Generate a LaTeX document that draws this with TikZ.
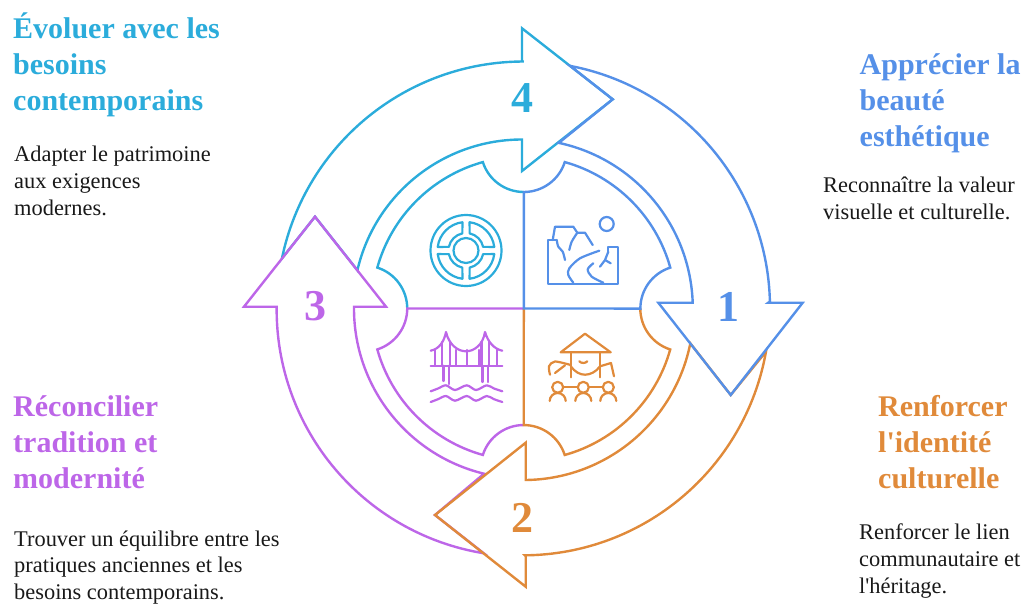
\documentclass[tikz,border=0pt]{standalone}
\usepackage{fontspec}
\setmainfont{Liberation Serif}
\usepackage{tikz}
\usetikzlibrary{arrows,shapes}

\definecolor{cyanpart}{HTML}{2BACDB}
\definecolor{bluepart}{HTML}{5590E8}
\definecolor{orangepart}{HTML}{E08A3A}
\definecolor{purplepart}{HTML}{BD66E8}

\tikzset{
    shapeline/.style={line width=2.4pt, line join=miter},
    iconline/.style={line width=2.2pt, line cap=round, line join=round},
    title/.style={anchor=north west, inner sep=0pt, align=left, font=\fontsize{30}{36}\selectfont\bfseries},
    body/.style={anchor=north west, inner sep=0pt, align=left, text=black!90, font=\fontsize{22.4}{27.2}\selectfont},
    number/.style={inner sep=0pt, font=\fontsize{44}{44}\selectfont\bfseries}
}

\begin{document}
\begin{tikzpicture}[x=1pt, y=-1pt]
    \useasboundingbox (0, 0) rectangle (1028, 603);
    \coordinate (center) at (523.8, 308.5);

    % Draw sectors
    \draw[shapeline, cyanpart] (center) ++(270:116.5)
        arc[start angle=90, end angle=162.3, radius=43]
        arc[start angle=254.4, end angle=195.6, radius=152]
        arc[start angle=287.7, end angle=360, radius=43];
    \draw[shapeline, purplepart] (center) ++(90:116.5)
        arc[start angle=270, end angle=197.7, radius=43]
        arc[start angle=105.6, end angle=164.4, radius=152]
        arc[start angle=72.3, end angle=0, radius=43] -- (center);
    \draw[shapeline, orangepart] (center) ++(0:116.5)
        arc[start angle=180, end angle=107.7, radius=43]
        arc[start angle=15.6, end angle=74.4, radius=152]
        arc[start angle=342.3, end angle=270, radius=43] -- (center);
    \draw[shapeline, bluepart] (center) -- ++(270:116.5)
        arc[start angle=90, end angle=17.7, radius=43]
        arc[start angle=285.6, end angle=344.4, radius=152]
        arc[start angle=252.3, end angle=180, radius=43] -- cycle;

    % Draw arrows
    \draw[shapeline, cyanpart] (center) ++(191.7:247)
        arc[start angle=191.7, end angle=270, radius=247]
        -- (522, 61.5) -- (522, 28.3) -- (612.7, 99.3) -- (522, 171) -- (522, 139.5)
        arc[start angle=270, end angle=193.1, radius=169]
        -- (315, 216.7) -- cycle;
    \draw[shapeline, purplepart] (center) ++(99.3:248)
        arc[start angle=99.3, end angle=180.4, radius=247]
        -- (276.7, 306.7) -- (244, 306.7) -- (315, 216.7) -- (386, 306.7) -- (354, 306.7)
        arc[start angle=180.6, end angle=103.6, radius=170]
        -- (435, 515) -- cycle;
    \draw[shapeline, orangepart] (center) ++(10.1:246)
        arc[start angle=10.1, end angle=89.5, radius=247]
        -- (525.7, 556) -- (525.7, 586.7) -- (435, 515) -- (525.7, 442.7) -- (525.7, 480)
        arc[start angle=89.3, end angle=11.3, radius=170]
        -- (730.7, 395) -- cycle;
    \draw[shapeline, bluepart] (center) ++(280.8:247)
        arc[start angle=280.8, end angle=358.6, radius=246]
        -- (768.3, 302.7) -- (802.7, 302.7) -- (730.7, 395) -- (658.3, 302.7) -- (692.7, 302.7)
        arc[start angle=358, end angle=282.1, radius=169.5]
        -- (612.7, 99.3) -- cycle;

    % Define numbers
    \node[number, text=cyanpart] at (522, 98) (number four) {4};
    \node[number, text=purplepart] at (315, 306) (number three) {3};
    \node[number, text=orangepart] at (522, 518) (number two) {2};
    \node[number, text=bluepart] at (728, 307) (number one) {1};

    % Wheel icon
    \begin{scope}[shift={(466, 250.5)}, iconline, cyanpart]
        \draw (0, 0) circle[radius=35.5];
        \draw (0, 0) circle[radius=12.5];
        \foreach \a in {0, 90, 180, 270} {
            \draw (\a+7.2:28.5) arc[start angle=\a+7.2, end angle=\a+82.8, radius=28.5]
                -- (\a+78:17.5) arc[start angle=\a+78, end angle=\a+12, radius=17.5] -- cycle;
        }
    \end{scope}

    % Landscape icon
    \begin{scope}[iconline, bluepart]
        \draw (556.7, 240) -- (548.3, 240) -- (548.3, 284) -- (617.8, 284) -- (617.8, 246.7) -- (608.3, 246.7) -- (608.3, 251.7);
        \draw (552.7, 240) -- (555, 226.7) -- (573.3, 226.7) -- (577.3, 232.7) -- (585, 232.7) -- (592.7, 245);
        \draw plot[smooth] coordinates {(556.7, 240) (558.3, 246.7) (562.7, 251.7) (565, 260)};
        \draw plot[smooth] coordinates {(577.3, 232.7) (571.7, 241.7) (569.3, 250)};
        \draw plot[smooth] coordinates {(599.3, 250.7) (580, 258.3) (569.3, 268.3) (568.3, 275) (573.3, 282.7)};
        \draw plot[smooth] coordinates {(593.3, 263.3) (587.7, 269.3) (591.7, 276.7) (603.3, 282.7)};
        \draw (608.3, 251.7) -- (605, 260) -- (600, 266.7);
        \draw (605, 260) -- (610.7, 263.3);
        \draw (606.7, 224) circle[radius=7];
    \end{scope}

    % Bridge icon
    \begin{scope}[iconline, purplepart]
        \draw (430.7, 365.7) -- (502.3, 365.7);
        \draw (430.7, 350.7) .. controls (439, 349) and (444, 342) .. (446, 332)
            .. controls (449, 345) and (458, 351.3) .. (466, 351.3)
            .. controls (474, 351.3) and (483, 345) .. (485, 332)
            .. controls (488, 342) and (494, 349) .. (502.3, 350.7);
        \foreach \x in {435, 455.7, 467.3, 479, 496.7} {
            \draw (\x, 350) -- (\x, 365.7);
        }
        \foreach \x/\yend in {442/365.7, 450/365.7, 481.5/365.7, 489/365.7} {
            \draw (\x, 342) -- (\x, \yend);
        }
        \foreach \x/\yend in {443.5/381, 449/384, 482.5/382, 488/382} {
            \draw (\x, 365.7) -- (\x, \yend);
        }
        \foreach \y in {0, 10.7} {
            \draw[yshift=-\y pt] plot[smooth] coordinates {(430.7, 391.3) (438, 388.5) (446, 385.3) (455, 390) (466.7, 385.3) (476, 390) (486.7, 385.3) (494, 388.5) (502.3, 391.3)};
        }
    \end{scope}

    % Pavilion icon
    \begin{scope}[iconline, orangepart]
        \draw (560.7, 352.3) -- (585, 333.7) -- (610.7, 352.3) -- cycle;
        \draw (570.7, 352.3) -- (570.7, 377.3);
        \draw (600, 352.3) -- (600, 377.3);
        \draw (570.7, 366.3) .. controls (575, 372) and (580, 374.7) .. (585, 374.7)
            .. controls (590, 374.7) and (596, 372) .. (600, 366.3);
        \draw (579.3, 361.3) .. controls (581, 363.5) and (585.5, 363.5) .. (587.3, 361.3);
        \draw plot[smooth] coordinates {(550, 374.7) (549, 366.3) (555, 361.5) (570.7, 365)};
        \draw (555, 373) -- (565, 365.3);
        \draw (600, 366.3) -- (611, 363) -- (614, 376.3);
        \foreach \x in {557.7, 583.3, 608.3} {
            \draw (\x, 387.3) circle[radius=5.5];
            \draw (\x-8, 401) arc[start angle=180, end angle=360, radius=8];
        }
        \draw (563.2, 387) -- (577.8, 387);
        \draw (588.8, 387) -- (602.8, 387);
    \end{scope}

    % Define texts
    \node[title, text=cyanpart] at (13, 12.5) (title four) {Évoluer avec les\\besoins\\contemporains};
    \node[body] at (14, 145.5) (body four) {Adapter le patrimoine\\aux exigences\\modernes.};
    \node[title, text=bluepart] at (859.5, 53.5) (title one) {Apprécier la\\beauté\\esthétique};
    \node[body] at (823, 177) (body one) {Reconnaître la valeur\\visuelle et culturelle.};
    \node[title, text=orangepart] at (878, 395.5) (title two) {Renforcer\\l\textquotesingle identité\\culturelle};
    \node[body] at (859, 523.5) (body two) {Renforcer le lien\\communautaire et\\l\textquotesingle héritage.};
    \node[title, text=purplepart] at (13, 395.5) (title three) {Réconcilier\\tradition et\\modernité};
    \node[body, font=\fontsize{22.4}{26.4}\selectfont] at (14, 530.5) (body three) {Trouver un équilibre entre les\\pratiques anciennes et les\\besoins contemporains.};
\end{tikzpicture}
\end{document}
